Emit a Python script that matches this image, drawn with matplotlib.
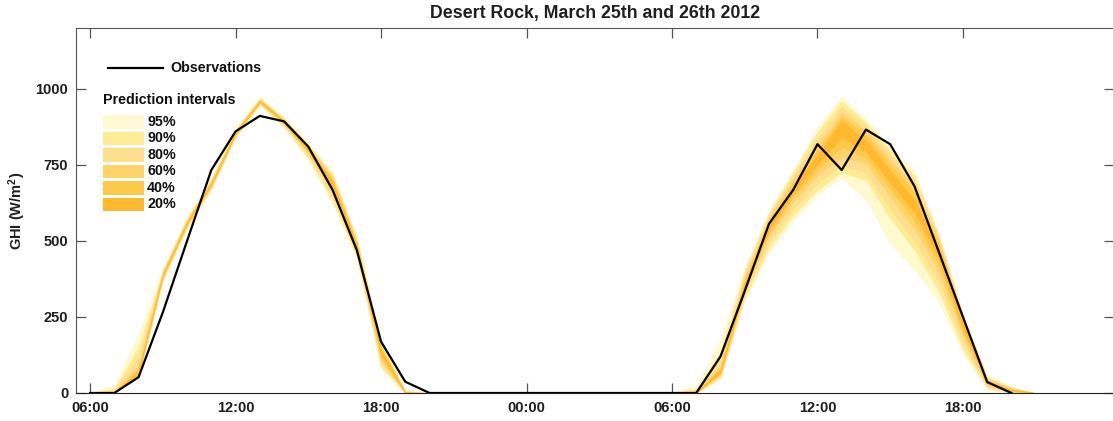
import matplotlib
matplotlib.use('Agg')
import matplotlib.pyplot as plt
from matplotlib.patches import Rectangle

plt.rcParams['font.family'] = ['Liberation Sans', 'DejaVu Sans']
plt.rcParams['font.weight'] = 'bold'
plt.rcParams['mathtext.fontset'] = 'custom'
plt.rcParams['mathtext.rm'] = 'Liberation Sans:bold'
plt.rcParams['mathtext.bf'] = 'Liberation Sans:bold'
plt.rcParams['mathtext.default'] = 'bf'

# hours since March 25th 00:00
obs_hours = list(range(6, 45))
observations = [0, 0, 52, 265, 500, 733, 860, 911, 893, 810, 668, 470, 169, 37, 0,
                0, 0, 0, 0, 0, 0, 0, 0, 0,
                0, 0, 120, 335, 556, 668, 818, 733, 866, 818, 680, 465, 250, 36, 0]

levels = ['95%', '90%', '80%', '60%', '40%', '20%']
colors = ['#FFF9CF', '#FEEC95', '#FEDF8E', '#FED46A', '#FEC849', '#FEBA2C']

day1_hours = list(range(6, 21))
day1_lower = [
    [0, 0, 50, 365, 540, 665, 838, 945, 872, 765, 620, 440, 78, 0, 0],
    [0, 0, 55, 370, 545, 670, 842, 948, 876, 772, 632, 448, 86, 0, 0],
    [0, 0, 58, 375, 548, 675, 845, 951, 880, 780, 645, 456, 95, 0, 0],
    [0, 0, 60, 380, 552, 680, 848, 954, 884, 788, 660, 466, 108, 0, 0],
    [0, 0, 63, 383, 555, 683, 850, 956, 887, 793, 672, 473, 118, 0, 0],
    [0, 0, 66, 386, 558, 686, 852, 958, 890, 797, 682, 478, 127, 0, 0],
]
day1_upper = [
    [0, 26, 195, 408, 580, 708, 870, 973, 908, 824, 728, 515, 172, 10, 0],
    [0, 15, 150, 403, 575, 703, 866, 970, 904, 818, 720, 508, 166, 8, 0],
    [0, 10, 120, 400, 572, 700, 863, 967, 901, 814, 714, 503, 160, 6, 0],
    [0, 5, 92, 396, 568, 696, 860, 965, 898, 810, 708, 497, 154, 4, 0],
    [0, 3, 80, 393, 565, 693, 858, 963, 896, 806, 702, 492, 148, 3, 0],
    [0, 2, 72, 390, 562, 690, 856, 961, 894, 803, 695, 486, 140, 2, 0],
]

day2_hours = list(range(30, 46))
day2_lower = [
    [0, 0, 45, 300, 460, 565, 651, 706, 635, 492, 405, 300, 128, 12, 0, 0],
    [0, 0, 50, 312, 478, 585, 668, 725, 700, 575, 470, 335, 145, 16, 0, 0],
    [0, 0, 55, 325, 495, 605, 690, 748, 725, 605, 500, 365, 165, 20, 2, 0],
    [0, 0, 60, 337, 515, 630, 715, 775, 755, 645, 540, 400, 185, 25, 4, 0],
    [0, 0, 64, 345, 527, 645, 735, 808, 775, 670, 570, 425, 200, 29, 6, 0],
    [0, 0, 68, 352, 537, 658, 752, 840, 795, 692, 595, 445, 212, 33, 8, 0],
]
day2_upper = [
    [0, 26, 175, 415, 600, 735, 876, 975, 902, 812, 730, 528, 265, 56, 22, 0],
    [0, 15, 135, 402, 592, 725, 858, 958, 890, 798, 715, 520, 258, 53, 19, 0],
    [0, 10, 110, 392, 583, 715, 838, 940, 878, 785, 700, 512, 252, 50, 17, 0],
    [0, 6, 92, 380, 572, 702, 815, 922, 862, 768, 680, 502, 245, 46, 15, 0],
    [0, 4, 82, 370, 562, 690, 798, 908, 848, 750, 660, 490, 238, 42, 13, 0],
    [0, 2, 75, 362, 553, 678, 782, 895, 830, 730, 635, 475, 228, 38, 11, 0],
]

x_ticks = [6, 12, 18, 24, 30, 36, 42]
x_labels = ['06:00', '12:00', '18:00', '00:00', '06:00', '12:00', '18:00']
y_ticks = [0, 250, 500, 750, 1000]

fig = plt.figure(figsize=(11.13, 4.21), dpi=100)
ax = fig.add_axes([76 / 1113, 28 / 421, 1038 / 1113, 365 / 421])
ax.set_axisbelow(True)

for hours, lower, upper in [(day1_hours, day1_lower, day1_upper),
                            (day2_hours, day2_lower, day2_upper)]:
    # white area under the bands (hides the ticks like the original)
    ax.fill_between(hours, 0, lower[0], color='white', lw=0, zorder=1)
    for lo, hi, c in zip(lower, upper, colors):
        ax.fill_between(hours, lo, hi, color=c, lw=0.3, edgecolor=c, zorder=1)

ax.plot(obs_hours, observations, color='black', lw=1.6, zorder=3)

ax.set_xlim(5.42, 48.23)
ax.set_ylim(0, 1200)
ax.set_xticks(x_ticks)
ax.set_xticklabels(x_labels)
ax.set_yticks(y_ticks)
ax.tick_params(direction='in', length=7.5, width=0.9, color='#555555',
               labelsize=10.5, labelcolor='#1f1f1f', top=True, right=True, pad=5.5)
for s in ['left', 'top']:
    ax.spines[s].set_color('#555555')
ax.spines['bottom'].set_color('#222222')
ax.spines['right'].set_visible(False)

ax.set_ylabel(r'GHI (W/m$^2$)', fontsize=10.5, fontweight='bold', color='#1f1f1f')
ax.yaxis.set_label_coords(-0.046, 0.5)
ax.set_title('Desert Rock, March 25th and 26th 2012', fontsize=12.8, fontweight='bold',
             color='#1f1f1f', pad=7)

# legend, drawn by hand
ax.plot([0.031, 0.084], [0.890, 0.890], transform=ax.transAxes, color='black', lw=1.6)
ax.text(0.0906, 0.890, 'Observations', transform=ax.transAxes, fontsize=10.3,
        fontweight='bold', va='center', ha='left', color='#111111')
ax.text(0.026, 0.803, 'Prediction intervals', transform=ax.transAxes, fontsize=10.3,
        fontweight='bold', va='center', ha='left', color='#111111')
for i, (lab, c) in enumerate(zip(levels, colors)):
    yc = 0.7425 - i * 0.0452
    ax.add_patch(Rectangle((0.026, yc - 0.018), 0.0395, 0.036, transform=ax.transAxes,
                           facecolor=c, edgecolor='none', zorder=4))
    ax.text(0.0685, yc, lab, transform=ax.transAxes, fontsize=10.3, fontweight='bold',
            va='center', ha='left', color='#111111')

fig.savefig('out.png', dpi=100)
